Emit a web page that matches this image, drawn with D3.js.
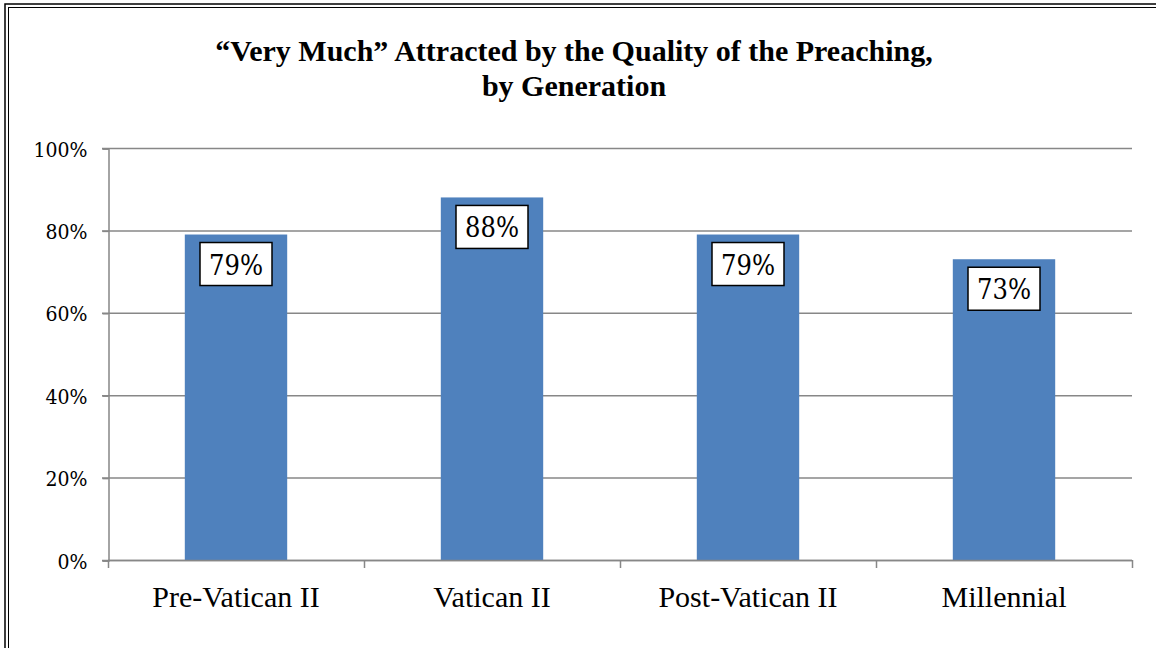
<!DOCTYPE html>
<html>
<head>
<meta charset="utf-8">
<script src="https://cdn.jsdelivr.net/npm/d3@7"></script>
<style>
  body { margin: 0; background: #fff; }
  svg { display: block; }
  svg text { font-family: "Liberation Serif", "Times New Roman", serif; }
  svg text.num { font-family: "DejaVu Serif Condensed", "DejaVu Serif", serif; }
</style>
</head>
<body>
<svg id="chart" width="1156" height="648"></svg>
<script>
// data
var generations = ["Pre-Vatican II", "Vatican II", "Post-Vatican II", "Millennial"];
var veryMuch = [79, 88, 79, 73];
var yTicks = [0, 20, 40, 60, 80, 100];
var titleLines = ["\u201CVery Much\u201D Attracted by the Quality of the Preaching,", "by Generation"];

var svg = d3.select("#chart");
var gridColor = "#878787";

// outer double border
svg.append("rect").attr("x", 5).attr("y", 4).attr("width", 1160).attr("height", 660)
  .attr("fill", "none").attr("stroke", "#000").attr("stroke-width", 1.5);
svg.append("rect").attr("x", 8.5).attr("y", 7.5).attr("width", 1160).attr("height", 660)
  .attr("fill", "none").attr("stroke", "#000").attr("stroke-width", 1);

// title
svg.append("text")
  .attr("text-anchor", "middle")
  .style("font-weight", "bold")
  .style("font-size", "30px")
  .selectAll("tspan")
  .data(titleLines)
  .enter()
  .append("tspan")
  .attr("x", 574)
  .attr("y", function(d, i) { return 61 + i * 35; })
  .text(function(d) { return d; });

var x = d3.scaleBand().domain(generations).range([108, 1132]).paddingInner(0.6).paddingOuter(0.3);
var y = d3.scaleLinear().domain([0, 100]).range([560, 148]);

// gridlines
svg.append("g")
  .selectAll("line")
  .data(yTicks)
  .enter()
  .append("line")
  .attr("x1", 102).attr("x2", 1132)
  .attr("y1", function(d) { return y(d) + 0.5; })
  .attr("y2", function(d) { return y(d) + 0.5; })
  .attr("stroke", gridColor)
  .attr("stroke-width", 1.5);

// y axis
var yAxis = d3.axisLeft(y).tickValues(yTicks).tickSize(6).tickFormat(function(d) { return d + "%"; });
var gy = svg.append("g").attr("transform", "translate(108.5,0.5)").call(yAxis);
gy.attr("font-family", null);
gy.select(".domain").attr("stroke", gridColor).attr("stroke-width", 1.5);
gy.selectAll(".tick line").attr("stroke", gridColor).attr("stroke-width", 1.5);
gy.selectAll(".tick text")
  .attr("class", "num")
  .attr("x", -21)
  .attr("dy", "0.36em")
  .attr("fill", "#000")
  .style("font-size", "21px");

// bars
svg.append("g")
  .selectAll("rect")
  .data(veryMuch)
  .enter()
  .append("rect")
  .attr("x", function(d, i) { return x(generations[i]); })
  .attr("y", function(d) { return y(d); })
  .attr("width", x.bandwidth())
  .attr("height", function(d) { return y(0) - y(d); })
  .attr("fill", "#4F81BD");

// x axis with category separators
var bounds = d3.range(generations.length + 1).map(function(i) { return 108 + i * (1024 / generations.length); });
svg.append("line").attr("x1", 108).attr("x2", 1132).attr("y1", 560.5).attr("y2", 560.5)
  .attr("stroke", gridColor).attr("stroke-width", 1.5);
svg.append("g")
  .selectAll("line")
  .data(bounds)
  .enter()
  .append("line")
  .attr("x1", function(d) { return d + 0.5; })
  .attr("x2", function(d) { return d + 0.5; })
  .attr("y1", 560).attr("y2", 568)
  .attr("stroke", gridColor)
  .attr("stroke-width", 1.5);

svg.append("g")
  .selectAll("text")
  .data(generations)
  .enter()
  .append("text")
  .attr("x", function(d) { return x(d) + x.bandwidth() / 2; })
  .attr("y", 607)
  .attr("text-anchor", "middle")
  .style("font-size", "30px")
  .text(function(d) { return d; });

// value labels in boxes
var labels = svg.append("g")
  .selectAll("g")
  .data(veryMuch)
  .enter()
  .append("g")
  .attr("transform", function(d, i) {
    return "translate(" + (x(generations[i]) + x.bandwidth() / 2) + "," + (y(d) + 8) + ")";
  });
labels.append("rect")
  .attr("x", -36).attr("y", 0)
  .attr("width", 72).attr("height", 43)
  .attr("fill", "#fff")
  .attr("stroke", "#000")
  .attr("stroke-width", 1.5);
labels.append("text")
  .attr("class", "num")
  .attr("x", 0).attr("y", 32)
  .attr("text-anchor", "middle")
  .style("font-size", "27px")
  .text(function(d) { return d + "%"; });
</script>
</body>
</html>
